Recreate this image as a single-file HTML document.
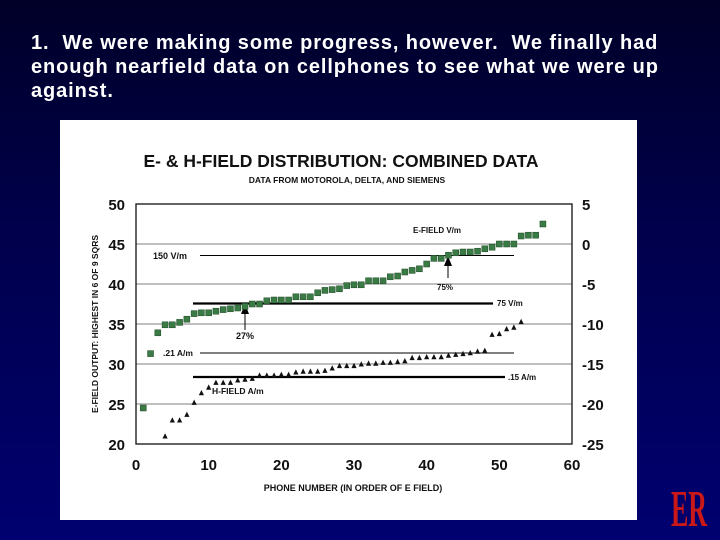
<!DOCTYPE html>
<html><head><meta charset="utf-8"><style>
html,body{margin:0;padding:0}
body{width:720px;height:540px;overflow:hidden;background:linear-gradient(#000028,#00004a 40%,#000070);font-family:"Liberation Sans",sans-serif;position:relative}
.hdr{position:absolute;left:31px;top:31px;width:650px;color:#fff;font-weight:bold;font-size:20px;letter-spacing:0.9px;line-height:24px}
svg{position:absolute;left:0;top:0}
</style></head><body>
<div class="hdr">1.&nbsp; We were making some progress, however.&nbsp; We finally had enough nearfield data on cellphones to see what we were up against.</div>
<svg id="ch" width="720" height="540">
<rect x="60" y="120" width="577" height="400" fill="#fff"/>
<text x="341" y="167" font-size="17.5" font-weight="bold" text-anchor="middle" fill="#111">E- &amp; H-FIELD DISTRIBUTION: COMBINED DATA</text>
<text x="347" y="183" font-size="8.5" font-weight="bold" text-anchor="middle" fill="#111">DATA FROM MOTOROLA, DELTA, AND SIEMENS</text>
<text x="98" y="324" font-size="8.5" font-weight="bold" text-anchor="middle" fill="#111" transform="rotate(-90 98 324)">E-FIELD OUTPUT: HIGHEST IN 6 OF 9 SQRS</text>
<text x="353" y="491" font-size="9" font-weight="bold" text-anchor="middle" fill="#111">PHONE NUMBER (IN ORDER OF E FIELD)</text>
<g id="grid"></g><g id="refs"></g><g id="marks"></g><g id="ticks"></g>
<g><text x="0" y="0" font-size="52" font-weight="bold" fill="#c81818" text-anchor="middle" font-family="Liberation Serif,serif" transform="translate(689,526) scale(0.5,1)">ER</text></g>
</svg>
<script>
const xTicks=[0,10,20,30,40,50,60];
const yTicksL=[50,45,40,35,30,25,20];
const yTicksR=[5,0,-5,-10,-15,-20,-25];
const eField=[24.5,31.3,33.9,34.9,34.9,35.2,35.6,36.3,36.4,36.4,36.6,36.8,36.9,37.0,37.2,37.5,37.5,37.9,38.0,38.0,38.0,38.4,38.4,38.4,38.9,39.2,39.3,39.4,39.8,39.9,39.9,40.4,40.4,40.4,40.9,41.0,41.5,41.7,41.9,42.5,43.2,43.2,43.6,43.9,44.0,44.0,44.1,44.4,44.6,45.0,45.0,45.0,46.0,46.1,46.1,47.5];
const hStart=4;
const hField=[-24.0,-22.0,-22.0,-21.3,-19.8,-18.6,-17.9,-17.3,-17.3,-17.3,-17.0,-16.9,-16.8,-16.4,-16.4,-16.4,-16.3,-16.3,-16.0,-15.9,-15.9,-15.9,-15.8,-15.5,-15.2,-15.2,-15.2,-15.0,-14.9,-14.9,-14.8,-14.8,-14.7,-14.6,-14.2,-14.2,-14.1,-14.1,-14.1,-13.9,-13.8,-13.7,-13.6,-13.4,-13.3,-11.3,-11.2,-10.6,-10.4,-9.7];
const X0=136,X1=572,Y0=444,Y1=204;
const sx=v=>X0+(v-0)/60*(X1-X0);
const sy=v=>Y0-(v-20)/30*(Y0-Y1);
const syR=v=>sy(v+45);
const NS='http://www.w3.org/2000/svg';
function mk(tag,at,parent){const e=document.createElementNS(NS,tag);for(const k in at)e.setAttribute(k,at[k]);document.getElementById(parent).appendChild(e);return e;}
yTicksL.forEach((t,i)=>{
 if(t>20&&t<50){const g=mk('line',{x1:X0,x2:X1,y1:sy(t),y2:sy(t),stroke:'#555','stroke-width':0.8},'grid');
 
 }
 const l=mk('text',{x:125,y:sy(t)+6,'font-size':15,'font-weight':'bold','text-anchor':'end',fill:'#111'},'ticks');l.textContent=t;
 
 
});
yTicksR.forEach(t=>{
 const l=mk('text',{x:582,y:syR(t)+6,'font-size':15,'font-weight':'bold',fill:'#111'},'ticks');l.textContent=t;
 
 
});
xTicks.forEach(t=>{
 const l=mk('text',{x:sx(t),y:470,'font-size':15,'font-weight':'bold','text-anchor':'middle',fill:'#111'},'ticks');l.textContent=t;
 
 
});
const box=mk('rect',{x:X0,y:Y1,width:X1-X0,height:Y0-Y1,fill:'none',stroke:'#111','stroke-width':1.3},'grid');


function ref(x1,x2,y,w,name){const l=mk('line',{x1:x1,x2:x2,y1:y,y2:y,stroke:'#000','stroke-width':w},'refs');
 
 }
ref(200,514,255.5,1,'ref-line-150vm');
ref(193,493,303.5,2.2,'ref-line-75vm');
ref(200,514,353,1,'ref-line-021am');
ref(193,505,377,2.2,'ref-line-015am');
function lab(x,y,s,txt,name){const t=mk('text',{x:x,y:y,'font-size':s,'font-weight':'bold',fill:'#111'},'refs');t.textContent=txt;
 
 }
lab(153,259,9,'150 V/m','label-150vm');
lab(497,306,8,'75 V/m','label-75vm');
lab(163,356,8.5,'.21 A/m','label-021am');
lab(508,380,8,'.15 A/m','label-015am');
lab(413,233,8,'E-FIELD V/m','label-efield');
lab(212,394,8.5,'H-FIELD A/m','label-hfield');
lab(236,339,9,'27%','label-27pct');
lab(437,290,8,'75%','label-75pct');
[[245,305,330],[448,257,278]].forEach(a=>{
 const l=mk('line',{x1:a[0],x2:a[0],y1:a[1],y2:a[2],stroke:'#000','stroke-width':1},'refs');
 
 
 const p=mk('polygon',{points:`${a[0]-4},${a[1]+9} ${a[0]},${a[1]-1} ${a[0]+4},${a[1]+9}`,fill:'#000'},'refs');
 
 
});
eField.forEach((v,i)=>{
 const r=mk('rect',{x:sx(i+1)-3,y:sy(v)-3,width:6,height:6,fill:'#3a7a44',stroke:'#1e4a26','stroke-width':0.5},'marks');
 
 
});
hField.forEach((v,i)=>{
 const x=sx(i+hStart),y=syR(v);
 const p=mk('polygon',{points:`${x-2.6},${y+2.5} ${x},${y-2.8} ${x+2.6},${y+2.5}`,fill:'#111'},'marks');
 
 
});
</script>
</body></html>
